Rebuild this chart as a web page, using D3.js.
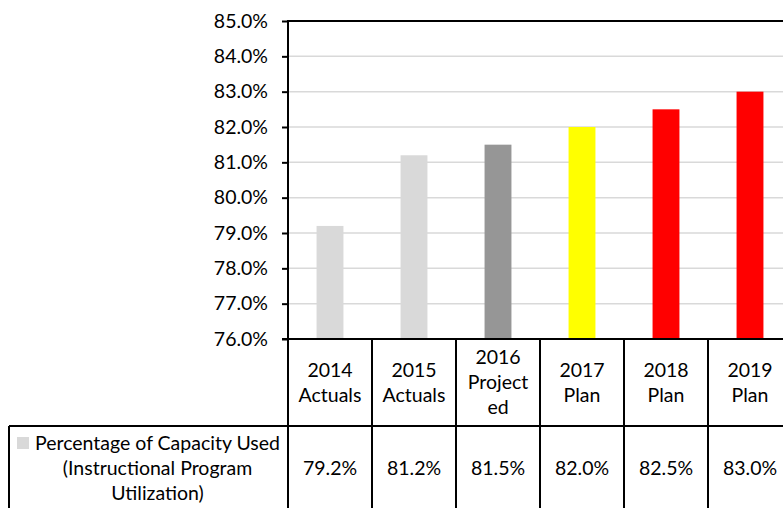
<!DOCTYPE html>
<html>
<head>
<meta charset="utf-8">
<script src="https://cdn.jsdelivr.net/npm/d3@7"></script>
<style>
  body { margin: 0; background: #fff; }
  svg { display: block; font-family: Lato, "Open Sans", sans-serif; }
</style>
</head>
<body>
<svg id="chart" width="783" height="508"></svg>
<script>
// chart data
const categories = ['2014 Actuals', '2015 Actuals', '2016 Projected', '2017 Plan', '2018 Plan', '2019 Plan'];
const headerLines = [['2014', 'Actuals'], ['2015', 'Actuals'], ['2016', 'Project', 'ed'], ['2017', 'Plan'], ['2018', 'Plan'], ['2019', 'Plan']];
const values = [79.2, 81.2, 81.5, 82.0, 82.5, 83.0];
const barColors = ['#d9d9d9', '#d9d9d9', '#969696', '#ffff00', '#ff0000', '#ff0000'];
const yTicks = [76, 77, 78, 79, 80, 81, 82, 83, 84, 85];
const seriesName = ['Percentage of Capacity Used', '(Instructional Program', 'Utilization)'];

const svg = d3.select('#chart');
const plotLeft = 288, plotRight = 792, plotTop = 21, plotBottom = 339;
const headerBottom = 426, tableLeft = 9;
const fontSize = 19.5;

const x = d3.scaleBand().domain(categories).range([plotLeft, plotRight]).padding(0);
const y = d3.scaleLinear().domain([76, 85]).range([plotBottom, plotTop]);
const barW = x.bandwidth() * 0.32;

// gridlines
svg.append('g')
  .selectAll('line')
  .data(yTicks.filter((d) => d > 76 && d < 85))
  .join('line')
  .attr('x1', plotLeft)
  .attr('x2', plotRight)
  .attr('y1', (d) => y(d))
  .attr('y2', (d) => y(d))
  .attr('stroke', '#d9d9d9')
  .attr('stroke-width', 1.5);

// bars
svg.append('g')
  .selectAll('rect')
  .data(values)
  .join('rect')
  .attr('x', (d, i) => x(categories[i]) + (x.bandwidth() - barW) / 2)
  .attr('y', (d) => y(d))
  .attr('width', barW)
  .attr('height', (d) => y(76) - y(d))
  .attr('fill', (d, i) => barColors[i]);

// top border
svg.append('line')
  .attr('x1', plotLeft).attr('x2', plotRight)
  .attr('y1', y(85)).attr('y2', y(85))
  .attr('stroke', '#000').attr('stroke-width', 2);

// y axis
const yAxis = svg.append('g')
  .attr('transform', `translate(${plotLeft},0)`)
  .call(d3.axisLeft(y).tickValues(yTicks).tickFormat((d) => d.toFixed(1) + '%').tickSize(6).tickPadding(14));
yAxis.select('.domain').remove();
yAxis.selectAll('.tick line').attr('stroke', '#000').attr('stroke-width', 2);
yAxis.selectAll('.tick text')
  .attr('font-size', fontSize)
  .attr('font-family', 'Lato, "Open Sans", sans-serif')
  .attr('fill', '#000');
svg.append('line')
  .attr('x1', plotLeft).attr('x2', plotLeft)
  .attr('y1', plotTop - 1).attr('y2', 520)
  .attr('stroke', '#000').attr('stroke-width', 2);

// data table
const table = svg.append('g');
table.append('line')
  .attr('x1', plotLeft - 6).attr('x2', plotRight)
  .attr('y1', plotBottom).attr('y2', plotBottom)
  .attr('stroke', '#000').attr('stroke-width', 2);
table.append('line')
  .attr('x1', tableLeft).attr('x2', plotRight)
  .attr('y1', headerBottom).attr('y2', headerBottom)
  .attr('stroke', '#000').attr('stroke-width', 2);
table.append('line')
  .attr('x1', tableLeft).attr('x2', tableLeft)
  .attr('y1', headerBottom).attr('y2', 520)
  .attr('stroke', '#000').attr('stroke-width', 2);
table.selectAll('.sep')
  .data(categories.slice(1))
  .join('line')
  .attr('class', 'sep')
  .attr('x1', (d) => x(d)).attr('x2', (d) => x(d))
  .attr('y1', plotBottom).attr('y2', 520)
  .attr('stroke', '#000').attr('stroke-width', 2);

const lineH = 25;
table.selectAll('.head')
  .data(headerLines)
  .join('text')
  .attr('class', 'head')
  .attr('text-anchor', 'middle')
  .attr('font-size', fontSize)
  .each(function (lines, i) {
    const cx = x(categories[i]) + x.bandwidth() / 2;
    const cy = (plotBottom + headerBottom) / 2;
    const y0 = cy - ((lines.length - 1) * lineH) / 2;
    d3.select(this).selectAll('tspan')
      .data(lines)
      .join('tspan')
      .attr('x', cx)
      .attr('y', (l, j) => y0 + j * lineH)
      .attr('dy', '0.35em')
      .text((l) => l);
  });

const rowMid = 468;
table.selectAll('.val')
  .data(values)
  .join('text')
  .attr('class', 'val')
  .attr('text-anchor', 'middle')
  .attr('font-size', fontSize)
  .attr('x', (d, i) => x(categories[i]) + x.bandwidth() / 2)
  .attr('y', rowMid)
  .attr('dy', '0.35em')
  .text((d) => d.toFixed(1) + '%');

// legend cell
table.append('rect')
  .attr('x', 17).attr('y', 437)
  .attr('width', 12).attr('height', 12)
  .attr('fill', barColors[0]);
table.append('text')
  .attr('font-size', fontSize)
  .attr('text-anchor', 'middle')
  .selectAll('tspan')
  .data(seriesName)
  .join('tspan')
  .attr('x', 157.5)
  .attr('y', (d, j) => rowMid + (j - 1) * lineH)
  .attr('dy', '0.35em')
  .text((d) => d);
</script>
</body>
</html>
